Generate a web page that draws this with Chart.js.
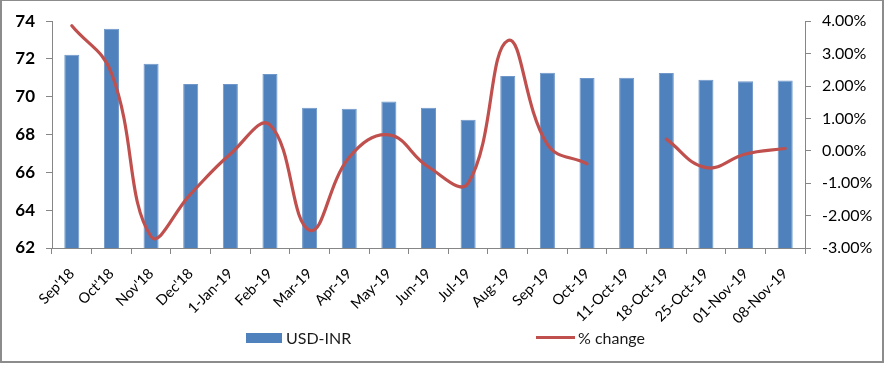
<!DOCTYPE html>
<html>
<head>
<meta charset="utf-8">
<script src="https://cdn.jsdelivr.net/npm/chart.js@4"></script>
<style>
  html, body { margin: 0; padding: 0; background: #fff; }
  #wrap { position: relative; width: 886px; height: 365px; overflow: hidden; }
  canvas { position: absolute; left: 0; top: 0; }
  #frame { position: absolute; left: 0; top: 0; width: 884px; height: 363px; box-sizing: border-box;
           border: 2px solid #8c8c8c; border-top-width: 1px; pointer-events: none; }
  .lg { position: absolute; font-family: Lato, "Open Sans", sans-serif; font-size: 16px; color: #1a1a1a; line-height: 16px; }
  .sw { position: absolute; }
</style>
</head>
<body>
<div id="wrap">
  <canvas id="c" width="886" height="365"></canvas>
  <div class="sw" style="left:246px;top:333px;width:36px;height:10px;background:#4F81BD;"></div>
  <div class="lg" style="left:286px;top:330px;">USD-INR</div>
  <div class="sw" style="left:536px;top:336px;width:39px;height:3px;background:#C0504D;"></div>
  <div class="lg" style="left:578px;top:330px;">% change</div>
  <div id="frame"></div>
</div>
<script>
const categories = ["Sep'18","Oct'18","Nov'18","Dec'18","1-Jan-19","Feb-19","Mar-19","Apr-19","May-19","Jun-19","Jul-19","Aug-19","Sep-19","Oct-19","11-Oct-19","18-Oct-19","25-Oct-19","01-Nov-19","08-Nov-19"];
const usdInr = [72.22, 73.6, 71.75, 70.68, 70.68, 71.2, 69.42, 69.37, 69.75, 69.42, 68.78, 71.1, 71.27, 71.0, 71.01, 71.26, 70.9, 70.82, 70.86];
const pctChange = [3.86, 2.4, -2.65, -1.33, -0.1, 0.8, -2.45, -0.2, 0.49, -0.5, -1.0, 3.4, 0.2, -0.4, null, 0.36, -0.52, -0.1, 0.07];
const leftTicks = {min: 62, max: 74, step: 2};
const rightTicks = {min: -3, max: 4, step: 1};

const axisColor = '#868686';
const font = 'Lato, "Open Sans", sans-serif';

new Chart(document.getElementById('c'), {
  data: {
    labels: categories,
    datasets: [
      {
        type: 'line', label: '% change', data: pctChange, yAxisID: 'y1', order: 0,
        borderColor: '#C0504D', borderWidth: 3.2, pointRadius: 0, tension: 0.42,
        spanGaps: false, fill: false, borderCapStyle: 'round'
      },
      {
        type: 'bar', label: 'USD-INR', data: usdInr, yAxisID: 'y', order: 1,
        backgroundColor: '#4F81BD', borderColor: '#6f97c9', borderWidth: 1,
        barPercentage: 0.38, categoryPercentage: 1.0
      }
    ]
  },
  options: {
    responsive: false, animation: false,
    layout: { padding: { top: 19, bottom: 20, left: 0, right: 0 } },
    plugins: { legend: { display: false }, tooltip: { enabled: false } },
    scales: {
      x: {
        type: 'category', offset: true,
        grid: { display: true, drawOnChartArea: false, drawTicks: true, tickLength: 6, color: axisColor, offset: true },
        border: { display: true, color: axisColor, width: 1 },
        ticks: { autoSkip: false, minRotation: 45, maxRotation: 45, padding: 11, color: '#000', font: { family: font, size: 14.5 } },
        afterFit: (s) => { s.height = 365 - 248 - 20; }
      },
      y: {
        position: 'left', min: leftTicks.min, max: leftTicks.max,
        grid: { display: true, drawOnChartArea: false, drawTicks: true, tickLength: 6, color: axisColor },
        border: { display: true, color: axisColor },
        ticks: { stepSize: leftTicks.step, padding: 11, color: '#000', font: { family: font, size: 17, weight: 'bold' } },
        afterFit: (s) => { s.width = 52; }
      },
      y1: {
        position: 'right', min: rightTicks.min, max: rightTicks.max,
        grid: { display: true, drawOnChartArea: false, drawTicks: true, tickLength: 6, color: axisColor },
        border: { display: true, color: axisColor },
        ticks: { stepSize: rightTicks.step, padding: 11, color: '#000', font: { family: font, size: 16 },
                 callback: (v) => Number(v).toFixed(2) + '%' },
        afterFit: (s) => { s.width = 81; }
      }
    }
  }
});
</script>
</body>
</html>
